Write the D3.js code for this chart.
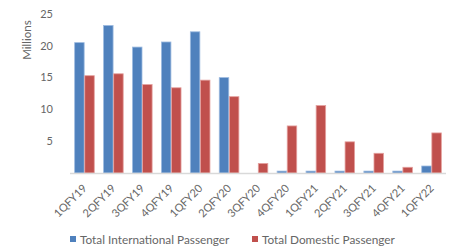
<!DOCTYPE html>
<html>
<head>
<meta charset="utf-8">
<script src="https://cdn.jsdelivr.net/npm/d3@7"></script>
<style>
  body { margin: 0; background: #fff; }
  svg { font-family: Lato, "Open Sans", sans-serif; }
</style>
</head>
<body>
<div id="chart"></div>
<script>
const width = 449;
const height = 251;

const quarters = ["1QFY19", "2QFY19", "3QFY19", "4QFY19", "1QFY20", "2QFY20", "3QFY20",
  "4QFY20", "1QFY21", "2QFY21", "3QFY21", "4QFY21", "1QFY22"];
const international = [20.5, 23.2, 19.8, 20.6, 22.2, 15.0, 0, 0.3, 0.3, 0.3, 0.3, 0.3, 1.1];
const domestic = [15.3, 15.6, 13.9, 13.4, 14.6, 12.0, 1.5, 7.4, 10.6, 4.9, 3.1, 0.9, 6.3];
const seriesNames = ["Total International Passenger", "Total Domestic Passenger"];
const yTicks = [5, 10, 15, 20, 25];

const colors = ["#4F81BD", "#C0504D"];
const strokes = ["#9DBBE0", "#E4A09E"];

const margin = { top: 14, right: 3, bottom: 78, left: 70 };

const svg = d3.select("#chart")
  .append("svg")
  .attr("width", width)
  .attr("height", height);

const x0 = d3.scaleBand()
  .domain(quarters)
  .range([margin.left, width - margin.right])
  .paddingInner(0.28)
  .paddingOuter(0.14);

const x1 = d3.scaleBand()
  .domain([0, 1])
  .range([0, x0.bandwidth()])
  .padding(0.06);

const y = d3.scaleLinear()
  .domain([0, 25])
  .range([height - margin.bottom, margin.top]);

// y tick labels (no axis line)
svg.selectAll(".ytick")
  .data(yTicks)
  .enter()
  .append("text")
  .attr("x", 53)
  .attr("y", function(d) { return y(d); })
  .attr("dy", "0.35em")
  .attr("text-anchor", "end")
  .attr("fill", "#666")
  .style("font-size", "11px")
  .text(function(d) { return d; });

svg.append("text")
  .attr("transform", "translate(31,40) rotate(-90)")
  .attr("text-anchor", "middle")
  .attr("fill", "#666")
  .style("font-size", "11.5px")
  .text("Millions");

const rows = quarters.map(function(q, i) {
  return { q: q, values: [international[i], domestic[i]] };
});

const group = svg.selectAll(".grp")
  .data(rows)
  .enter()
  .append("g")
  .attr("transform", function(d) { return "translate(" + x0(d.q) + ",0)"; });

group.selectAll("rect")
  .data(function(d) { return d.values; })
  .enter()
  .append("rect")
  .attr("x", function(d, i) { return x1(i); })
  .attr("y", function(d) { return y(d); })
  .attr("width", x1.bandwidth())
  .attr("height", function(d) { return y(0) - y(d); })
  .attr("fill", function(d, i) { return colors[i]; })
  .attr("stroke", function(d, i) { return d > 0 ? strokes[i] : "none"; })
  .attr("stroke-width", 0.8);

// x axis baseline
svg.append("line")
  .attr("x1", margin.left)
  .attr("x2", width - margin.right)
  .attr("y1", y(0) + 0.5)
  .attr("y2", y(0) + 0.5)
  .attr("stroke", "#D9D9D9")
  .attr("stroke-width", 1.5);

// x labels rotated
svg.selectAll(".xlab")
  .data(quarters)
  .enter()
  .append("text")
  .attr("transform", function(d) {
    return "translate(" + (x0(d) + x0.bandwidth() / 2 + 3) + "," + (y(0) + 16) + ") rotate(-45)";
  })
  .attr("text-anchor", "end")
  .attr("fill", "#666")
  .style("font-size", "11px")
  .text(function(d) { return d; });

// legend
const legendX = [70, 252];
const legend = svg.selectAll(".leg")
  .data(seriesNames)
  .enter()
  .append("g")
  .attr("transform", function(d, i) { return "translate(" + legendX[i] + ",236)"; });

legend.append("rect")
  .attr("width", 6)
  .attr("height", 6)
  .attr("fill", function(d, i) { return colors[i]; });

legend.append("text")
  .attr("x", 10)
  .attr("y", 3.5)
  .attr("dy", "0.35em")
  .attr("fill", "#666")
  .style("font-size", "11.8px")
  .text(function(d) { return d; });
</script>
</body>
</html>
